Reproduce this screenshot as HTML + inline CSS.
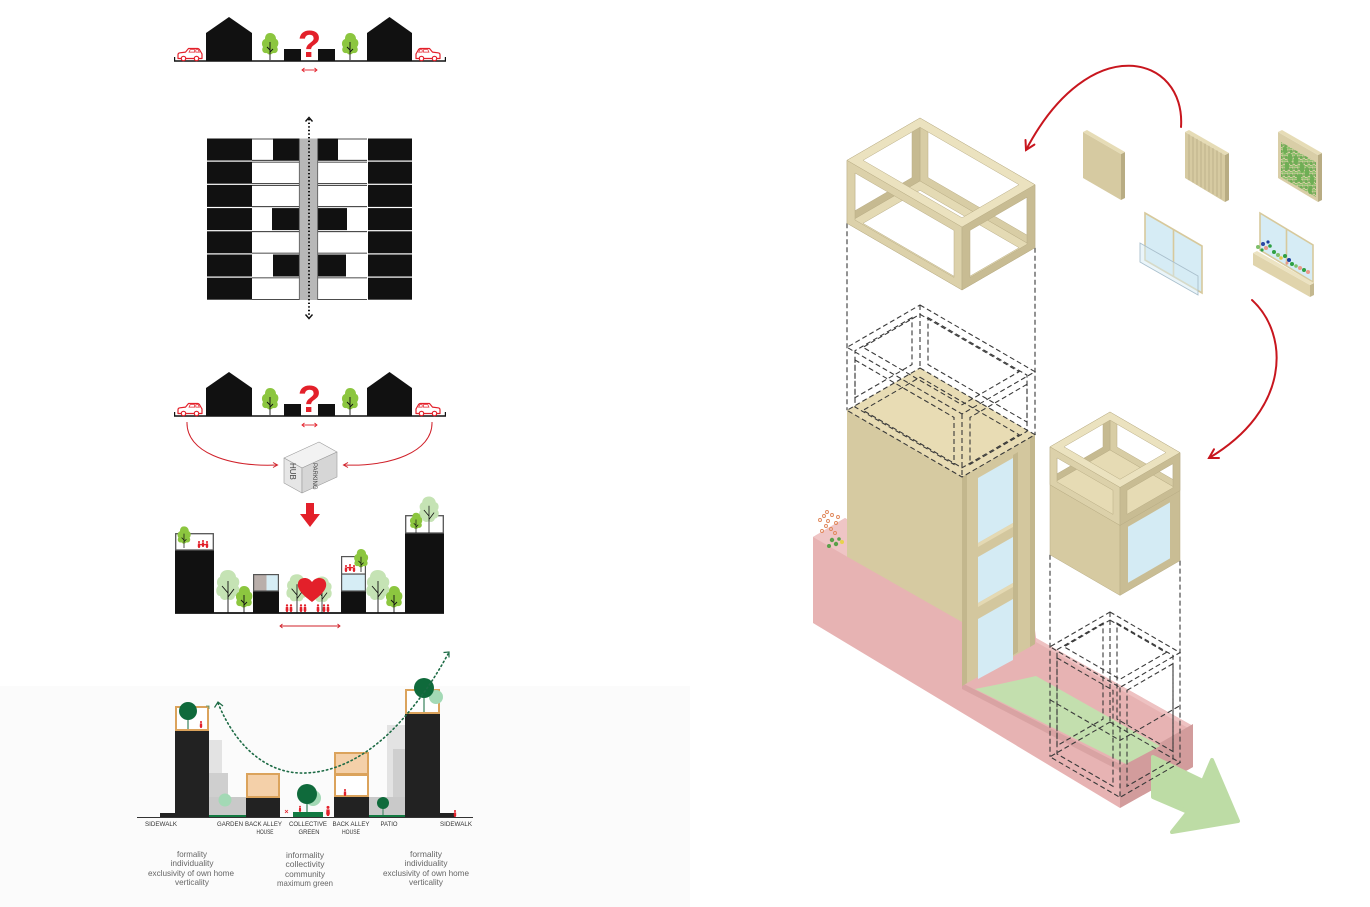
<!DOCTYPE html>
<html><head><meta charset="utf-8"><style>
html,body{margin:0;padding:0;background:#fff;}
svg{display:block;}
text{font-family:"Liberation Sans",sans-serif;}
</style></head><body>
<svg width="1370" height="907" viewBox="0 0 1370 907" xmlns="http://www.w3.org/2000/svg">
<defs>
<g id="car">
 <path d="M1,11 L1,7.2 Q1,5.6 3,5.3 L8.5,4.6 L11.5,1 L20.5,1 Q22,1 23,3 L25,6.5 L25,11 Z" fill="#fff" stroke="#e3202a" stroke-width="1.2" stroke-linejoin="round"/>
 <path d="M12,4.6 L13.2,2.2 L17.6,2.2 L17.6,4.6 Z M18.8,4.6 L18.8,2.2 L21,2.2 L22.4,4.6 Z" fill="none" stroke="#e3202a" stroke-width="0.7"/>
 <circle cx="6.5" cy="11" r="2.2" fill="#fff" stroke="#e3202a" stroke-width="1.2"/>
 <circle cx="19.5" cy="11" r="2.2" fill="#fff" stroke="#e3202a" stroke-width="1.2"/>
</g>
<g id="ltree">
 <path d="M0,-27 C4,-27 6,-24 6,-21 C9,-20 9,-15 7,-13 C9,-10 7,-6 3,-7 C1,-5 -2,-5 -3,-7 C-7,-6 -9,-10 -7,-13 C-9,-16 -8,-20 -5,-21 C-5,-25 -3,-27 0,-27 Z" fill="#8cc63f"/>
 <path d="M0,-18 L0,0 M0,-10 L-3,-13 M0,-8 L3,-11" stroke="#111" stroke-width="0.9" fill="none"/>
</g>
<g id="ptree">
 <path d="M0,-43 C5,-43 8,-39 8,-36 C12,-35 12,-29 10,-27 C13,-24 11,-17 7,-17 C6,-13 2,-12 0,-14 C-3,-12 -7,-13 -8,-17 C-12,-17 -13,-24 -10,-27 C-12,-30 -11,-35 -8,-36 C-8,-40 -5,-43 0,-43 Z" fill="#c5e3b4"/>
 <path d="M0,-32 L0,0 M0,-20 L-6,-27 M0,-16 L6,-24" stroke="#111" stroke-width="0.9" fill="none"/>
</g>
<g id="pp" fill="#e3202a"><circle cx="0" cy="-6.6" r="1.15"/><path d="M-1.2,-5.1 L1.2,-5.1 L1.4,-1.6 L0.7,0 L-0.7,0 L-1.4,-1.6 Z"/></g>
<pattern id="leaf" width="5" height="6" patternUnits="userSpaceOnUse">
 <circle cx="1.3" cy="1.5" r="1.6" fill="#6fae55"/><circle cx="3.7" cy="4.2" r="1.5" fill="#8fc46d"/><circle cx="4" cy="1" r="0.9" fill="#5a9c46"/><circle cx="1" cy="4.8" r="0.9" fill="#7cb860"/>
</pattern>
</defs>

<rect x="0" y="0" width="1370" height="907" fill="#fff"/>
<rect x="0" y="686" width="690" height="221" fill="#fbfbfb"/>

<!-- ============ DIAGRAM 1 ============ -->
<g id="d1">
 <line x1="174" y1="61" x2="446" y2="61" stroke="#111" stroke-width="1.6"/>
 <line x1="174.6" y1="57" x2="174.6" y2="61.5" stroke="#111" stroke-width="1.2"/>
 <line x1="445.4" y1="57" x2="445.4" y2="61.5" stroke="#111" stroke-width="1.2"/>
 <use href="#car" transform="translate(177,47.5)"/>
 <use href="#car" transform="translate(441,47.5) scale(-1,1)"/>
 <polygon points="206,61 206,33 229,17 252,33 252,61" fill="#111"/>
 <polygon points="367,61 367,33 389.5,17 412,33 412,61" fill="#111"/>
 <use href="#ltree" transform="translate(270,60)"/>
 <use href="#ltree" transform="translate(350,60)"/>
 <rect x="284" y="49" width="17" height="12" fill="#111"/>
 <rect x="318" y="49" width="17" height="12" fill="#111"/>
 <text x="309.5" y="57" font-size="38" font-weight="bold" fill="#e3202a" text-anchor="middle">?</text>
 <g stroke="#e3202a" stroke-width="0.9" fill="none"><line x1="302" y1="70" x2="317" y2="70"/><polyline points="304.5,68 302,70 304.5,72"/><polyline points="314.5,68 317,70 314.5,72"/></g>
</g>

<!-- ============ GRID ============ -->
<g>
 <g fill="#111">
  <rect x="207" y="138.5" width="45" height="22"/><rect x="207" y="161.7" width="45" height="22"/><rect x="207" y="184.9" width="45" height="22"/><rect x="207" y="208.1" width="45" height="22"/><rect x="207" y="231.3" width="45" height="22"/><rect x="207" y="254.5" width="45" height="22"/><rect x="207" y="277.7" width="45" height="22"/>
  <rect x="368" y="138.5" width="44" height="22"/><rect x="368" y="161.7" width="44" height="22"/><rect x="368" y="184.9" width="44" height="22"/><rect x="368" y="208.1" width="44" height="22"/><rect x="368" y="231.3" width="44" height="22"/><rect x="368" y="254.5" width="44" height="22"/><rect x="368" y="277.7" width="44" height="22"/>
  <rect x="273" y="138.5" width="26" height="22"/><rect x="272" y="208.1" width="27" height="22"/><rect x="273" y="254.5" width="26" height="22"/>
  <rect x="318" y="138.5" width="20" height="22"/><rect x="318" y="208.1" width="29" height="22"/><rect x="318" y="254.5" width="28" height="22"/>
 </g>
 <g stroke="#111" stroke-width="0.8">
  <line x1="252" y1="139" x2="299" y2="139"/><line x1="252" y1="160.3" x2="299" y2="160.3"/><line x1="252" y1="162.1" x2="299" y2="162.1"/><line x1="252" y1="183.5" x2="299" y2="183.5"/><line x1="252" y1="185.3" x2="299" y2="185.3"/><line x1="252" y1="206.7" x2="299" y2="206.7"/><line x1="252" y1="231.7" x2="299" y2="231.7"/><line x1="252" y1="253.1" x2="299" y2="253.1"/><line x1="252" y1="277.9" x2="299" y2="277.9"/><line x1="252" y1="299.4" x2="299" y2="299.4"/>
  <line x1="318" y1="139" x2="367" y2="139"/><line x1="318" y1="160.3" x2="367" y2="160.3"/><line x1="318" y1="162.1" x2="367" y2="162.1"/><line x1="318" y1="183.5" x2="367" y2="183.5"/><line x1="318" y1="185.3" x2="367" y2="185.3"/><line x1="318" y1="206.7" x2="367" y2="206.7"/><line x1="318" y1="231.7" x2="367" y2="231.7"/><line x1="318" y1="253.1" x2="367" y2="253.1"/><line x1="318" y1="277.9" x2="367" y2="277.9"/><line x1="318" y1="299.4" x2="367" y2="299.4"/>
 </g>
 <rect x="299" y="138.5" width="19" height="161.5" fill="#b8b8b8"/>
 <line x1="299.3" y1="138.5" x2="299.3" y2="300" stroke="#555" stroke-width="0.8"/>
 <line x1="317.7" y1="138.5" x2="317.7" y2="300" stroke="#555" stroke-width="0.8"/>
 <line x1="309" y1="119" x2="309" y2="317" stroke="#111" stroke-width="2" stroke-dasharray="1.4 2.2"/>
 <polyline points="305.5,121.5 309,117.5 312.5,121.5" fill="none" stroke="#111" stroke-width="1.4"/>
 <polyline points="305.5,314.5 309,318.5 312.5,314.5" fill="none" stroke="#111" stroke-width="1.4"/>
</g>

<!-- ============ DIAGRAM 3 ============ -->
<use href="#d1" transform="translate(0,355)"/>
<g stroke="#d0212a" stroke-width="1" fill="none">
 <path d="M187,422 C186,452 228,467 277,465"/>
 <polyline points="273,462.5 277.5,465 273,467.5"/>
 <path d="M432,422 C433,452 390,467 344,465"/>
 <polyline points="348,462.5 343.5,465 348,467.5"/>
</g>
<g stroke="#9a9a9a" stroke-width="0.6" stroke-linejoin="round">
 <polygon points="284,458 319,442 337,452 302,468" fill="#f2f2f2"/>
 <polygon points="284,458 302,468 302,493 284,483" fill="#e6e6e6"/>
 <polygon points="302,468 337,452 337,477 302,493" fill="#d6d6d6"/>
</g>
<text transform="translate(290,463) rotate(90)" font-size="8" fill="#444">HUB</text>
<text transform="translate(313,463) rotate(90)" font-size="6" fill="#444">PARKING</text>
<polygon points="306,503 314,503 314,514 320,514 310,527 300,514 306,514" fill="#e3202a"/>

<!-- ============ DIAGRAM 4 ============ -->
<g>
 <line x1="175" y1="613" x2="444" y2="613" stroke="#111" stroke-width="1.8"/>
 <rect x="175" y="550" width="39" height="63" fill="#111"/>
 <rect x="175.7" y="533.7" width="37.6" height="16.3" fill="#fff" stroke="#555" stroke-width="1.3"/>
 <use href="#ltree" transform="translate(184,548) scale(0.8)"/>
 <use href="#pp" transform="translate(199,548) scale(0.9)"/><use href="#pp" transform="translate(203,547) scale(0.9)"/><use href="#pp" transform="translate(207,548) scale(0.9)"/>
 <rect x="200" y="544" width="6" height="1.2" fill="#e3202a"/>

 <use href="#ptree" transform="translate(228,613)"/>
 <use href="#ltree" transform="translate(244,613)"/>

 <rect x="253" y="591" width="26" height="22" fill="#111"/>
 <rect x="253.6" y="574.6" width="13" height="16.4" fill="#b9aeaa"/>
 <rect x="266.6" y="574.6" width="11.8" height="16.4" fill="#d6edf5"/>
 <rect x="253.6" y="574.6" width="24.8" height="16.4" fill="none" stroke="#555" stroke-width="1.2"/>

 <use href="#ptree" transform="translate(297,613) scale(0.9)"/>
 <use href="#ptree" transform="translate(322,613) scale(0.85)"/>
 <path d="M312,602 C300,593 297,588 298,583 C299,577 308,576 312,582 C316,576 325,577 326,583 C327,588 324,593 312,602 Z" fill="#e3202a"/>
 <use href="#pp" transform="translate(287,612)"/><use href="#pp" transform="translate(291,612)"/><use href="#pp" transform="translate(301,612)"/><use href="#pp" transform="translate(305,612)"/><use href="#pp" transform="translate(318,612)"/><use href="#pp" transform="translate(324,612)"/><use href="#pp" transform="translate(328,612)"/>

 <rect x="341" y="591" width="25" height="22" fill="#111"/>
 <rect x="341.6" y="574" width="23.8" height="17" fill="#d6edf5" stroke="#555" stroke-width="1.2"/>
 <rect x="341.6" y="556.6" width="23.8" height="17.4" fill="#fff" stroke="#555" stroke-width="1.2"/>
 <use href="#ltree" transform="translate(361,572) scale(0.85)"/>
 <use href="#pp" transform="translate(346,572) scale(0.9)"/><use href="#pp" transform="translate(350,571) scale(0.9)"/><use href="#pp" transform="translate(354,572) scale(0.9)"/>
 <rect x="347" y="567" width="6" height="1.2" fill="#e3202a"/>

 <use href="#ptree" transform="translate(378,613)"/>
 <use href="#ltree" transform="translate(394,613)"/>

 <rect x="405" y="533" width="39" height="80" fill="#111"/>
 <rect x="405.7" y="515.7" width="37.6" height="17.3" fill="#fff" stroke="#555" stroke-width="1.3"/>
 <use href="#ptree" transform="translate(429,533) scale(0.85)"/>
 <use href="#ltree" transform="translate(416,533) scale(0.75)"/>

 <g stroke="#d0212a" stroke-width="0.9" fill="none"><line x1="280" y1="626" x2="340" y2="626"/><polyline points="282.5,624 280,626 282.5,628"/><polyline points="337.5,624 340,626 337.5,628"/></g>
</g>

<!-- ============ CHART ============ -->
<g>
 <rect x="209" y="740" width="13" height="77" fill="#e3e3e3"/>
 <rect x="209" y="773" width="19" height="44" fill="#cfcfcf"/>
 <rect x="209" y="797" width="37" height="20" fill="#c9c9c9"/>
 <circle cx="225" cy="800" r="6.5" fill="#a3d9b5"/>
 <rect x="209" y="815" width="37" height="2" fill="#137a42"/>

 <rect x="387" y="725" width="18" height="92" fill="#e3e3e3"/>
 <rect x="393" y="749" width="12" height="68" fill="#cfcfcf"/>
 <rect x="369" y="797" width="36" height="20" fill="#c9c9c9"/>
 <line x1="383" y1="803" x2="383" y2="815" stroke="#0f6a3b" stroke-width="0.8"/>
 <circle cx="383" cy="803" r="6" fill="#0f6a3b"/>
 <rect x="369" y="815" width="36" height="2" fill="#137a42"/>

 <line x1="137" y1="817.5" x2="473" y2="817.5" stroke="#333" stroke-width="1"/>
 <rect x="160" y="813" width="15" height="4" fill="#222"/>
 <rect x="440" y="813" width="15" height="4" fill="#222"/>

 <rect x="175" y="730" width="34" height="87" fill="#222"/>
 <rect x="176" y="707" width="32" height="23" fill="#fff" stroke="#dba35c" stroke-width="2"/>
 <line x1="188" y1="711" x2="188" y2="729" stroke="#0f6a3b" stroke-width="1"/>
 <circle cx="188" cy="711" r="9" fill="#0f6a3b"/>
 <use href="#pp" transform="translate(201,728) scale(0.9)"/>
 <path d="M206,706 L209,706 L209,709" fill="none" stroke="#4c8c5c" stroke-width="0.8"/>

 <rect x="246" y="797" width="34" height="20" fill="#222"/>
 <rect x="247" y="774" width="32" height="23" fill="#f4d0a9" stroke="#dba35c" stroke-width="2"/>

 <rect x="293" y="812" width="30" height="5" fill="#137a42"/>
 <circle cx="313" cy="798" r="8" fill="#a3d9b5"/>
 <line x1="307" y1="800" x2="307" y2="812" stroke="#0f6a3b" stroke-width="1"/>
 <circle cx="307" cy="794" r="10" fill="#0f6a3b"/>
 <use href="#pp" transform="translate(300,812) scale(0.8)"/>
 <use href="#pp" transform="translate(328,816) scale(1.3)"/>
 <path d="M285,810 L288,813 M288,810 L285,813" stroke="#e3202a" stroke-width="0.8"/>

 <rect x="334" y="797" width="35" height="20" fill="#222"/>
 <rect x="335" y="775" width="33" height="21" fill="#fff" stroke="#dba35c" stroke-width="2"/>
 <rect x="335" y="753" width="33" height="21" fill="#f4d0a9" stroke="#dba35c" stroke-width="2"/>
 <use href="#pp" transform="translate(345,796) scale(0.9)"/>

 <rect x="405" y="713" width="35" height="104" fill="#222"/>
 <rect x="406" y="690" width="33" height="23" fill="#fff" stroke="#dba35c" stroke-width="2"/>
 <circle cx="436" cy="697" r="7" fill="#a3d9b5"/>
 <line x1="424" y1="690" x2="424" y2="712" stroke="#0f6a3b" stroke-width="1"/>
 <circle cx="424" cy="688" r="10" fill="#0f6a3b"/>
 <use href="#pp" transform="translate(455,817) scale(0.9)"/>

 <path d="M218,703 C235,745 265,772 300,773 C335,774 370,755 400,722 C420,700 435,678 448,654" fill="none" stroke="#1d6b45" stroke-width="1.6" stroke-dasharray="1.4 3" stroke-linecap="round"/>
 <polyline points="214.5,707.5 218,702 223,706" fill="none" stroke="#1d6b45" stroke-width="1.2"/>
 <polyline points="443.5,652.5 449,652 449,657.5" fill="none" stroke="#1d6b45" stroke-width="1.2"/>

 <g font-size="6.3" fill="#333" text-anchor="middle">
  <text x="161" y="826" textLength="32" lengthAdjust="spacingAndGlyphs">SIDEWALK</text>
  <text x="230" y="826" textLength="26" lengthAdjust="spacingAndGlyphs">GARDEN</text>
  <text x="263.5" y="826" textLength="37" lengthAdjust="spacingAndGlyphs">BACK ALLEY</text>
  <text x="265" y="834" textLength="17" lengthAdjust="spacingAndGlyphs">HOUSE</text>
  <text x="308" y="826" textLength="38" lengthAdjust="spacingAndGlyphs">COLLECTIVE</text>
  <text x="309" y="834" textLength="21" lengthAdjust="spacingAndGlyphs">GREEN</text>
  <text x="351" y="826" textLength="37" lengthAdjust="spacingAndGlyphs">BACK ALLEY</text>
  <text x="351" y="834" textLength="18" lengthAdjust="spacingAndGlyphs">HOUSE</text>
  <text x="389" y="826" textLength="17" lengthAdjust="spacingAndGlyphs">PATIO</text>
  <text x="456" y="826" textLength="32" lengthAdjust="spacingAndGlyphs">SIDEWALK</text>
 </g>
 <g font-size="8.4" fill="#666" text-anchor="middle">
  <text x="192" y="857" textLength="30" lengthAdjust="spacingAndGlyphs">formality</text>
  <text x="192" y="866" textLength="43" lengthAdjust="spacingAndGlyphs">individuality</text>
  <text x="191" y="876" textLength="86" lengthAdjust="spacingAndGlyphs">exclusivity of own home</text>
  <text x="192" y="885" textLength="34" lengthAdjust="spacingAndGlyphs">verticality</text>
  <text x="305" y="858" textLength="38" lengthAdjust="spacingAndGlyphs">informality</text>
  <text x="305" y="867" textLength="39" lengthAdjust="spacingAndGlyphs">collectivity</text>
  <text x="305" y="877" textLength="40" lengthAdjust="spacingAndGlyphs">community</text>
  <text x="305" y="886" textLength="56" lengthAdjust="spacingAndGlyphs">maximum green</text>
  <text x="426" y="857" textLength="32" lengthAdjust="spacingAndGlyphs">formality</text>
  <text x="426" y="866" textLength="43" lengthAdjust="spacingAndGlyphs">individuality</text>
  <text x="426" y="876" textLength="86" lengthAdjust="spacingAndGlyphs">exclusivity of own home</text>
  <text x="426" y="885" textLength="34" lengthAdjust="spacingAndGlyphs">verticality</text>
 </g>
</g>

<!-- ============ RIGHT: ISOMETRIC ============ -->
<polygon points="813,537 845,518 1035,630 1036,638 1193,726 1193,767 1120,808 813,623" fill="#e7b3b3"/>
<polygon points="813,537 845,518 847,519.2 847,556.6" fill="#efc5c5"/>
<polygon points="1036,638 1193,726 1190,729 1036,642" fill="#eec2c2"/>
<polygon points="1120,766 1193,724 1193,767 1120,808" fill="#d29c9c"/>
<polygon points="975,689 1000,684 1036,676 1160,746 1126,764" fill="#c3dfae"/>
<polygon points="962,683 1122,765 1120,771 962,689" fill="#d9a3a3"/>
<g fill="none" stroke="#e0875a" stroke-width="0.9">
 <circle cx="820" cy="520" r="1.5"/><circle cx="824" cy="516" r="1.5"/><circle cx="828" cy="521" r="1.5"/><circle cx="832" cy="515" r="1.5"/><circle cx="826" cy="526" r="1.5"/><circle cx="831" cy="529" r="1.5"/><circle cx="836" cy="523" r="1.5"/><circle cx="822" cy="531" r="1.5"/><circle cx="835" cy="533" r="1.5"/><circle cx="838" cy="517" r="1.5"/><circle cx="827" cy="512" r="1.5"/>
</g>
<g fill="#5aa04a"><circle cx="832" cy="540" r="2.2"/><circle cx="836" cy="544" r="2.2"/><circle cx="829" cy="546" r="2"/><circle cx="839" cy="539" r="1.8"/></g>
<circle cx="842" cy="542" r="2" fill="#e8d34c"/>

<polygon points="920,368 1035,434.7 962,477 847,410.3" fill="#e8dcb4"/>
<polygon points="847,410.3 962,477 962,622 847,556.6" fill="#d6caa1"/>
<polygon points="962,477 1035,434.7 1035,644 962,686" fill="#d3c79e"/>
<polygon points="962,477 967,474.1 967,683.1 962,686" fill="#c3b78d"/>
<polygon points="1013,455 1018,452 1018,652 1013,655" fill="#c3b78d"/>
<polygon points="1030,437.6 1035,434.7 1035,644 1030,647" fill="#c3b78d"/>
<g fill="#d4ebf4">
 <polygon points="978,478 1013,458 1013,523 978,543"/>
 <polygon points="978,557 1013,537 1013,583 978,603"/>
 <polygon points="978,619 1013,599 1013,660 978,679"/>
</g>
<g fill="#e4d9b3">
 <polygon points="978,543 1013,523 1013,527 978,547"/>
 <polygon points="978,603 1013,583 1013,587 978,607"/>
</g>

<g fill="none" stroke="#3a3a3a" stroke-width="1.1" stroke-dasharray="5 3">
 <polygon points="920,305 1035,371.7 962,414 847,347.3"/>
 <polygon points="920,314.3 1019,371.7 962,404.8 863,347.3"/>
 <polygon points="920,368 1035,434.7 962,477 847,410.3"/>
 <polygon points="920,377.3 1019,434.7 962,467.8 863,410.3"/>
 <line x1="847" y1="223.3" x2="847" y2="410.3"/>
 <line x1="1035" y1="247.7" x2="1035" y2="434.7"/>
 <line x1="962" y1="414" x2="962" y2="477"/>
 <line x1="920" y1="305" x2="920" y2="368"/>
 <polygon points="855,360 954,417.4 954,464.4 855,407"/>
 <polygon points="1027,384.3 970,417.4 970,464.4 1027,431.3"/>
 <polygon points="912,317.6 855,350.7 855,397.7 912,364.6"/>
 <polygon points="928,317.6 1027,375.1 1027,422.1 928,364.6"/>
</g>

<polygon points="1153,757 1203,781 1212,760 1238,821 1172,832 1188,812 1153,797" fill="#bddca5" stroke="#bddca5" stroke-width="4" stroke-linejoin="round"/>

<g fill="none" stroke="#3a3a3a" stroke-width="1.1" stroke-dasharray="5 3">
 <polygon points="1110,612 1180,652.6 1120,687.4 1050,646.8"/>
 <polygon points="1110,620.1 1166,652.6 1120,679.3 1064,646.8"/>
 <polygon points="1110,722 1180,762.6 1120,797.4 1050,756.8"/>
 <line x1="1050" y1="554.8" x2="1050" y2="756.8"/>
 <line x1="1180" y1="560.6" x2="1180" y2="762.6"/>
 <line x1="1120" y1="687.4" x2="1120" y2="797.4"/>
 <line x1="1110" y1="612" x2="1110" y2="722"/>
 <polygon points="1057,657.9 1113,690.3 1113,786.3 1057,753.9"/>
 <polygon points="1127,690.3 1173,663.7 1173,759.7 1127,786.3"/>
 <polygon points="1103,623.1 1057,649.7 1057,745.7 1103,719.1"/>
 <polygon points="1117,623.1 1173,655.5 1173,751.5 1117,719.1"/>
 <polyline points="1050,699.8 1120,740.4 1180,705.6"/>
</g>

<g stroke="#b9ad85" stroke-width="0.5" fill-rule="evenodd">
 <path d="M920,118 L1035,184.7 L1035,247.7 L920,181 Z M928,130.6 L1027,188.1 L1027,235.1 L928,177.6 Z" fill="#d8cda5"/>
 <path d="M920,118 L847,160.3 L847,223.3 L920,181 Z M912,130.6 L855,163.7 L855,210.7 L912,177.6 Z" fill="#c6ba91"/>
 <path d="M920,181 L1035,247.7 L962,290 L847,223.3 Z M920,190.3 L1019,247.7 L962,280.8 L863,223.3 Z" fill="#e4dab4"/>
 <path d="M847,160.3 L962,227 L962,290 L847,223.3 Z M855,173 L954,230.4 L954,277.4 L855,220 Z" fill="#dcd1aa"/>
 <path d="M1035,184.7 L962,227 L962,290 L1035,247.7 Z M1027,197.3 L970,230.4 L970,277.4 L1027,244.3 Z" fill="#c8bc93"/>
 <path d="M920,118 L1035,184.7 L962,227 L847,160.3 Z M920,127.3 L1019,184.7 L962,217.8 L863,160.3 Z" fill="#ebe2bf"/>
</g>

<g stroke="#b9ad85" stroke-width="0.5" fill-rule="evenodd">
 <path d="M1110,412 L1180,452.6 L1180,490.6 L1110,450 Z M1117,423.1 L1173,455.5 L1173,479.5 L1117,447.1 Z" fill="#d8cda5"/>
 <path d="M1110,412 L1050,446.8 L1050,484.8 L1110,450 Z M1103,423.1 L1057,449.8 L1057,473.8 L1103,447.1 Z" fill="#c6ba91"/>
 <polygon points="1110,450 1180,490.6 1120,525.4 1050,484.8" fill="#e6dbb4"/>
 <polygon points="1050,484.8 1120,525.4 1120,595.4 1050,554.8" fill="#d6caa1"/>
 <polygon points="1120,525.4 1180,490.6 1180,560.6 1120,595.4" fill="#c9bd94"/>
 <polygon points="1128,526.8 1170,502.4 1170,558.4 1128,582.8" fill="#d4ebf4" stroke="none"/>
 <path d="M1050,446.8 L1120,487.4 L1120,525.4 L1050,484.8 Z M1057,457.9 L1113,490.3 L1113,514.4 L1057,481.9 Z" fill="#dcd1aa"/>
 <path d="M1180,452.6 L1120,487.4 L1120,525.4 L1180,490.6 Z M1173,463.7 L1127,490.3 L1127,514.3 L1173,487.7 Z" fill="#c8bc93"/>
 <path d="M1110,412 L1180,452.6 L1120,487.4 L1050,446.8 Z M1110,420.1 L1166,452.6 L1120,479.3 L1064,446.8 Z" fill="#ebe2bf"/>
</g>

<g>
 <polygon points="1083,132 1121,154 1121,200 1083,178" fill="#d6caa1"/>
 <polygon points="1121,154 1125,152 1125,198 1121,200" fill="#b8ac83"/>
 <polygon points="1083,132 1087,130 1125,152 1121,154" fill="#e6dcb6"/>

 <polygon points="1185,132 1225,155 1225,202 1185,178" fill="#d6caa1"/>
 <polygon points="1225,155 1229,153 1229,200 1225,202" fill="#b8ac83"/>
 <polygon points="1185,132 1189,130 1229,153 1225,155" fill="#e6dcb6"/>
 <g stroke="#b5a983" stroke-width="0.7">
  <line x1="1189" y1="134.3" x2="1189" y2="180.3"/><line x1="1193" y1="136.6" x2="1193" y2="182.6"/><line x1="1197" y1="138.9" x2="1197" y2="184.9"/><line x1="1201" y1="141.2" x2="1201" y2="187.2"/><line x1="1205" y1="143.5" x2="1205" y2="189.5"/><line x1="1209" y1="145.8" x2="1209" y2="191.8"/><line x1="1213" y1="148.1" x2="1213" y2="194.1"/><line x1="1217" y1="150.4" x2="1217" y2="196.4"/><line x1="1221" y1="152.7" x2="1221" y2="198.7"/>
 </g>

 <polygon points="1278,132 1318,155 1318,202 1278,178" fill="#d9cea7"/>
 <polygon points="1318,155 1322,153 1322,200 1318,202" fill="#b8ac83"/>
 <polygon points="1278,132 1282,130 1322,153 1318,155" fill="#e6dcb6"/>
 <polygon points="1281,142 1316,162 1316,197 1281,177" fill="url(#leaf)"/>
 <g fill="#6fae55">
  <ellipse cx="1285" cy="150" rx="2.2" ry="4"/><ellipse cx="1290" cy="158" rx="2.4" ry="5"/><ellipse cx="1296" cy="160" rx="2.2" ry="5"/><ellipse cx="1302" cy="168" rx="2.4" ry="5"/><ellipse cx="1307" cy="172" rx="2.2" ry="5"/><ellipse cx="1312" cy="180" rx="2.2" ry="5"/><ellipse cx="1287" cy="166" rx="2.2" ry="4"/><ellipse cx="1299" cy="178" rx="2.2" ry="4"/><ellipse cx="1310" cy="190" rx="2" ry="4"/>
 </g>
</g>

<g>
 <polygon points="1145,213 1202,246 1202,293 1145,260" fill="#d6ecf5" stroke="#d7c99c" stroke-width="1.6"/>
 <line x1="1173.5" y1="229.5" x2="1173.5" y2="276.5" stroke="#d7c99c" stroke-width="1.6"/>
 <polygon points="1140,243 1198,276 1198,295 1140,262" fill="#d6ecf5" fill-opacity="0.5" stroke="#a9bfcc" stroke-width="0.9"/>
</g>
<g>
 <polygon points="1260,213 1313,245 1313,282 1260,250" fill="#d6ecf5" stroke="#d7c99c" stroke-width="1.6"/>
 <line x1="1286.5" y1="229" x2="1286.5" y2="266" stroke="#d7c99c" stroke-width="1.6"/>
 <polygon points="1253,253 1310,285 1310,297 1253,265" fill="#e0d4ac"/>
 <polygon points="1310,285 1314,283 1314,295 1310,297" fill="#c4b88f"/>
 <polygon points="1253,253 1257,251 1314,283 1310,285" fill="#ece3c2"/>
 <g>
  <circle cx="1258" cy="247" r="2" fill="#7fbf6a"/><circle cx="1263" cy="244" r="2" fill="#2c47a3"/><circle cx="1266" cy="248" r="2" fill="#e89a8a"/><circle cx="1270" cy="246" r="1.8" fill="#2ea043"/><circle cx="1268" cy="242" r="1.6" fill="#1c3f9e"/>
  <circle cx="1274" cy="252" r="2" fill="#2ea043"/><circle cx="1278" cy="255" r="2" fill="#7fbf6a"/><circle cx="1281" cy="258" r="1.8" fill="#e8c84a"/><circle cx="1285" cy="256" r="2" fill="#2ea043"/>
  <circle cx="1289" cy="260" r="2" fill="#1c3f9e"/><circle cx="1292" cy="264" r="2" fill="#2ea043"/><circle cx="1296" cy="266" r="1.8" fill="#7fbf6a"/><circle cx="1300" cy="268" r="2" fill="#e89a8a"/>
  <circle cx="1304" cy="270" r="2" fill="#2ea043"/><circle cx="1308" cy="272" r="2" fill="#e89a8a"/><circle cx="1262" cy="250" r="1.6" fill="#2ea043"/><circle cx="1287" cy="263" r="1.5" fill="#e89a8a"/>
 </g>
</g>

<g stroke="#c8161e" stroke-width="2" fill="none" stroke-linecap="round">
 <path d="M1181,127 C1186,55 1090,28 1026,150"/>
 <polyline points="1025.5,140 1026,150 1034.4,144.6"/>
 <path d="M1252,300 C1290,335 1290,410 1209,458"/>
 <polyline points="1214,449.3 1209,458 1219,458"/>
</g>
</svg>
</body></html>
